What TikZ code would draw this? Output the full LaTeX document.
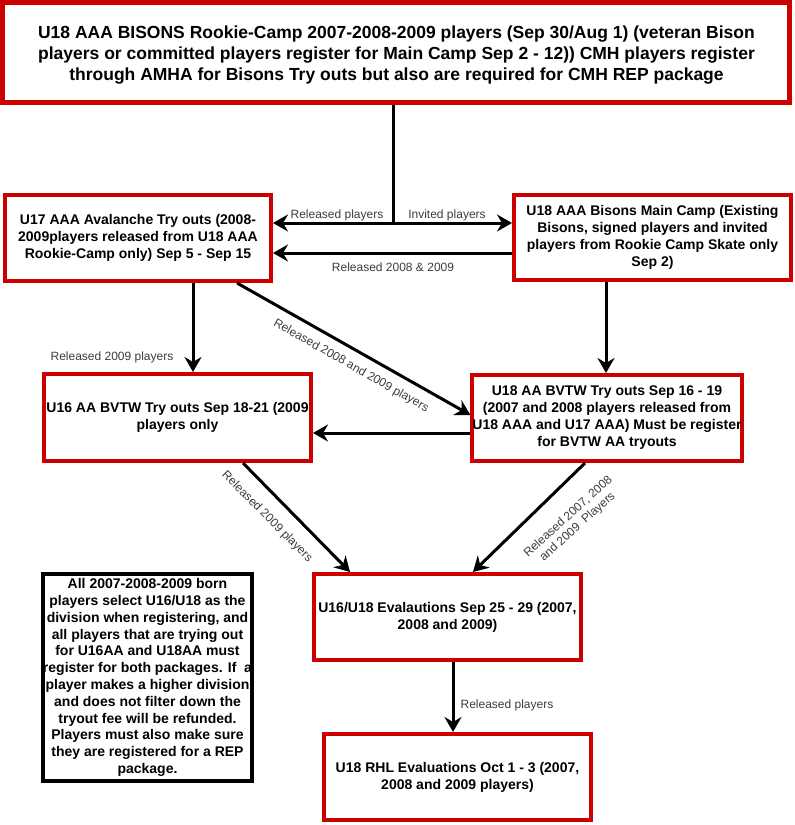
\documentclass[tikz,border=0pt]{standalone}
\usepackage{fontspec}
\setmainfont{Liberation Sans}
\usetikzlibrary{arrows.meta,calc}
\definecolor{boxred}{RGB}{204,0,0}
\definecolor{lblgray}{RGB}{60,60,60}
\tikzset{
  redbox/.style={draw=boxred, line width=4pt, fill=white, align=center, inner sep=0pt,
    font=\fontsize{14}{17}\selectfont\bfseries},
  topbox/.style={draw=boxred, line width=5pt, fill=white, inner sep=0pt},
  toptext/.style={align=center, inner sep=0pt, font=\fontsize{17.5}{21}\selectfont\bfseries},
  notebox/.style={draw=black, line width=4pt, fill=white, align=center, inner sep=0pt,
    font=\fontsize{14}{16.8}\selectfont\bfseries},
  conn/.style={line width=3pt, draw=black, -{Stealth[length=15pt,width=17pt,inset=5pt]}},
  dconn/.style={line width=3pt, draw=black, {Stealth[length=15pt,width=17pt,inset=5pt]}-{Stealth[length=15pt,width=17pt,inset=5pt]}},
  plainline/.style={line width=3pt, draw=black},
  lbl/.style={font=\fontsize{12}{14}\selectfont, text=lblgray, inner sep=1pt, align=center}
}
\begin{document}
\begin{tikzpicture}[x=1pt,y=-1pt]
\useasboundingbox (0,0) rectangle (795,825);

\node[topbox, minimum width=787pt, minimum height=100pt] (top) at (396,52.5) {};
\node[toptext] (toptxt) at (396.5,55.5)
  {U18 AAA BISONS Rookie-Camp 2007-2008-2009 players (Sep 30/Aug 1) (veteran Bison\\
   players or committed players register for Main Camp Sep 2 - 12)) CMH players register\\
   through AMHA for Bisons Try outs but also are required for CMH REP package};

\node[redbox, minimum width=266pt, minimum height=86pt] (u17) at (138,238)
  {U17 AAA Avalanche Try outs (2008-\\2009players released from U18 AAA\\Rookie-Camp only) Sep 5 - Sep 15};

\node[redbox, minimum width=277pt, minimum height=85pt] (main) at (652.5,237.5)
  {U18 AAA Bisons Main Camp (Existing\\Bisons, signed players and invited\\players from Rookie Camp Skate only\\Sep 2)};

\node[redbox, minimum width=267pt, minimum height=87pt] (u16) at (177.5,417.5)
  {U16 AA BVTW Try outs Sep 18-21 (2009\\players only};

\node[redbox, minimum width=266pt, minimum height=86pt] (u18aa) at (607,418)
  {U18 AA BVTW Try outs Sep 16 - 19\\(2007 and 2008 players released from\\U18 AAA and U17 AAA) Must be register\\for BVTW AA tryouts};

\node[redbox, minimum width=267pt, minimum height=86pt] (eval) at (447.5,617)
  {U16/U18 Evalautions Sep 25 - 29 (2007,\\2008 and 2009)};

\node[redbox, minimum width=267pt, minimum height=86pt] (rhl) at (457.5,777)
  {U18 RHL Evaluations Oct 1 - 3 (2007,\\2008 and 2009 players)};

\node[notebox, minimum width=207pt, minimum height=207pt] (note) at (147.5,677.5)
  {All 2007-2008-2009 born\\players select U16/U18 as the\\division when registering, and\\all players that are trying out\\for U16AA and U18AA must\\register for both packages. If\ \ a\\player makes a higher division\\and does not filter down the\\tryout fee will be refunded.\\Players must also make sure\\they are registered for a REP\\package.};

% top split connector
\coordinate (j) at (393,223);
\draw[plainline] (j |- top.south) -- (j);
\draw[dconn] (u17.east |- j) -- (main.west |- j);
\node[lbl] (l1) at (337,215) {Released players};
\node[lbl] (l2) at (447,215) {Invited players};

% main -> u17
\coordinate (m2) at ($(main.west)+(0,15.5)$);
\draw[conn] (m2) -- (m2 -| u17.east);
\node[lbl] (l3) at (393,267) {Released 2008 \& 2009};

% u17 -> u16
\coordinate (a1) at ($(u17.south)+(55,0)$);
\draw[conn] (a1) -- (a1 |- u16.north);
\node[lbl] (l4) at (112,357) {Released 2009 players};

% u17 -> u18aa diagonal
\draw[conn] ($(u17.south)+(99,0)$) -- ($(u18aa.west)+(0,-3)$);
\node[lbl, rotate=-29.5] (l5) at (351,366) {Released 2008 and 2009 players};

% main -> u18aa
\coordinate (m1) at ($(main.south)+(-46.5,0)$);
\draw[conn] (m1) -- (m1 |- u18aa.north);

% u18aa -> u16
\coordinate (h1) at ($(u18aa.west)+(0,15)$);
\draw[conn] (h1) -- (h1 -| u16.east);

% u16 -> eval
\draw[conn] ($(u16.south)+(65.5,0)$) -- ($(eval.north)+(-97.5,0)$);
\node[lbl, rotate=-45] (l6) at (267,517) {Released 2009 players};

% u18aa -> eval
\draw[conn] ($(u18aa.south)+(-22,0)$) -- ($(eval.north)+(25.5,0)$);
\node[lbl, rotate=42] (l7) at (573,522) {Released 2007, 2008\\and 2009\ \ Players};

% eval -> rhl
\coordinate (e1) at ($(eval.south)+(5.5,0)$);
\draw[conn] (e1) -- (e1 |- rhl.north);
\node[lbl] (l8) at (507,705) {Released players};
\end{tikzpicture}
\end{document}
